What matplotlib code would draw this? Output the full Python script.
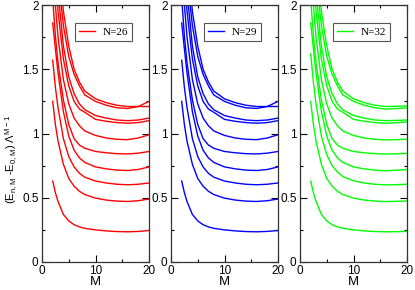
import matplotlib
matplotlib.use("Agg")
import matplotlib.pyplot as plt
from matplotlib.ticker import MultipleLocator, FuncFormatter

plt.rcParams['font.family'] = 'Liberation Sans'
plt.rcParams['mathtext.default'] = 'regular'

M = [2, 2.5, 3, 4, 5, 6, 7, 8, 10, 12, 14, 16, 18, 20]

# N=26 (lowest level first)
curves_n26 = [
    [0.63, 0.54, 0.47, 0.37, 0.32, 0.29, 0.273, 0.262, 0.25, 0.242, 0.237, 0.235, 0.238, 0.245],
    [1.25, 1.07, 0.94, 0.76, 0.65, 0.59, 0.55, 0.525, 0.497, 0.482, 0.474, 0.471, 0.477, 0.49],
    [1.57, 1.36, 1.20, 0.96, 0.82, 0.74, 0.69, 0.66, 0.63, 0.615, 0.605, 0.601, 0.605, 0.615],
    [1.86, 1.66, 1.47, 1.17, 0.98, 0.87, 0.81, 0.775, 0.74, 0.725, 0.715, 0.712, 0.72, 0.74],
    [2.05, 1.76, 1.55, 1.26, 1.07, 0.96, 0.91, 0.885, 0.86, 0.85, 0.843, 0.841, 0.847, 0.86],
    [2.35, 2.0, 1.75, 1.42, 1.23, 1.12, 1.06, 1.02, 0.985, 0.965, 0.955, 0.952, 0.965, 0.99],
    [2.59, 2.23, 1.95, 1.58, 1.37, 1.25, 1.19, 1.165, 1.11, 1.095, 1.085, 1.08, 1.085, 1.10],
    [2.75, 2.38, 2.10, 1.68, 1.44, 1.31, 1.23, 1.185, 1.14, 1.12, 1.105, 1.10, 1.105, 1.12],
    [2.83, 2.49, 2.22, 1.84, 1.60, 1.46, 1.37, 1.30, 1.25, 1.22, 1.20, 1.195, 1.21, 1.25],
    [3.10, 2.70, 2.40, 1.95, 1.68, 1.50, 1.40, 1.33, 1.27, 1.24, 1.22, 1.21, 1.21, 1.21],
]

# N=29 looks the same as N=26 at this scale
curves_n29 = curves_n26

# N=32: flatter at large M
curves_n32 = [
    [0.63, 0.54, 0.47, 0.37, 0.32, 0.29, 0.273, 0.262, 0.25, 0.242, 0.237, 0.235, 0.236, 0.238],
    [1.25, 1.07, 0.94, 0.76, 0.65, 0.59, 0.55, 0.525, 0.497, 0.482, 0.474, 0.470, 0.472, 0.475],
    [1.62, 1.40, 1.23, 0.98, 0.835, 0.75, 0.70, 0.665, 0.632, 0.615, 0.605, 0.600, 0.602, 0.605],
    [1.86, 1.66, 1.47, 1.17, 0.98, 0.87, 0.81, 0.775, 0.74, 0.725, 0.715, 0.710, 0.714, 0.72],
    [2.05, 1.76, 1.55, 1.26, 1.07, 0.96, 0.91, 0.885, 0.86, 0.85, 0.843, 0.840, 0.842, 0.845],
    [2.35, 2.0, 1.75, 1.42, 1.23, 1.12, 1.06, 1.02, 0.985, 0.965, 0.955, 0.950, 0.952, 0.955],
    [2.59, 2.23, 1.95, 1.58, 1.37, 1.25, 1.19, 1.165, 1.11, 1.095, 1.085, 1.080, 1.084, 1.09],
    [2.75, 2.38, 2.10, 1.68, 1.44, 1.31, 1.23, 1.185, 1.14, 1.12, 1.105, 1.100, 1.102, 1.105],
    [2.83, 2.49, 2.22, 1.84, 1.60, 1.46, 1.37, 1.30, 1.25, 1.22, 1.20, 1.19, 1.194, 1.20],
    [3.10, 2.70, 2.40, 1.95, 1.68, 1.50, 1.40, 1.33, 1.27, 1.24, 1.22, 1.21, 1.212, 1.215],
]

labels = ["N=26", "N=29", "N=32"]
colors = ["#ff0000", "#0000ff", "#00ff00"]
all_curves = [curves_n26, curves_n29, curves_n32]

W, H = 415, 290
fig = plt.figure(figsize=(W / 100, H / 100), dpi=100)
lefts = [42, 171, 300]

fmt = FuncFormatter(lambda v, p: f"{v:g}")
axes = []
for left, lab, col, curves in zip(lefts, labels, colors, all_curves):
    ax = fig.add_axes([left / W, 28 / H, 107 / W, 257 / H])
    for k, c in enumerate(curves):
        ax.plot(M, c, color=col, lw=1.0, label=lab if k == 0 else None)
    ax.set_xlim(0, 20)
    ax.set_ylim(0, 2)
    ax.xaxis.set_major_locator(MultipleLocator(10))
    ax.xaxis.set_minor_locator(MultipleLocator(5))
    ax.yaxis.set_major_locator(MultipleLocator(0.5))
    ax.yaxis.set_minor_locator(MultipleLocator(0.25))
    ax.yaxis.set_major_formatter(fmt)
    ax.tick_params(which='both', direction='in', top=True, right=True,
                   width=0.8, labelsize=8.5, pad=2.5)
    ax.tick_params(which='major', length=5)
    ax.tick_params(which='minor', length=2.5)
    for s in ax.spines.values():
        s.set_linewidth(0.9)
        s.set_color('#333333')
    ax.set_xlabel("M", fontsize=9.5, labelpad=-1)
    leg = ax.legend(loc='upper right', bbox_to_anchor=(0.845, 0.93), borderaxespad=0,
                    fancybox=False, framealpha=1, handlelength=1.5,
                    prop={'family': 'Liberation Serif', 'size': 8},
                    borderpad=0.35, handletextpad=0.7)
    leg.get_frame().set_edgecolor('#555555')
    leg.get_frame().set_linewidth(0.8)
    axes.append(ax)

axes[0].set_ylabel(r"(E$_{n,M}$ -E$_{0,M}$) $\Lambda^{M-1}$", fontsize=8)
axes[0].yaxis.set_label_coords(-0.21, 0.4)

fig.savefig("out.png", dpi=100)
